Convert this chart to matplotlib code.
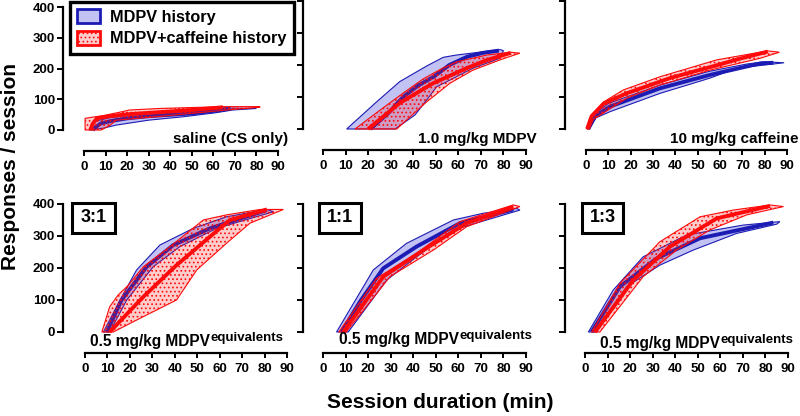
import numpy as np
import matplotlib
matplotlib.use('Agg')
import matplotlib.pyplot as plt
from matplotlib.patches import Patch, Rectangle

plt.rcParams['font.family'] = ['Liberation Sans', 'DejaVu Sans']
plt.rcParams['font.weight'] = 'bold'
plt.rcParams['hatch.linewidth'] = 0.7

# ---------------- data (time in min, cumulative responses) ----------------
# each group: mean curve, left/upper band edge (lo), right/lower band edge (hi)
SAL_BLUE = dict(mean_t=[4, 5.5, 8, 13, 20, 30, 50, 60, 68], mean_r=[0, 10, 22, 30, 38, 45, 54, 62, 70],
                lo_t=[2.5, 3, 4, 6, 12, 25, 42, 60], lo_r=[0, 10, 22, 30, 40, 52, 62, 72],
                hi_t=[3, 9, 15, 30, 46, 61, 69, 80], hi_r=[0, 6, 16, 32, 43, 56, 65, 70])
SAL_RED = dict(mean_t=[3, 4, 6, 12, 20, 35, 50, 64.5], mean_r=[0, 20, 38, 45, 51, 58, 65, 74],
               lo_t=[0.5, 0.5, 9, 18, 21, 35, 64.5, 81.6], lo_r=[0, 38, 47, 60, 65, 70, 76, 76],
               hi_t=[8, 12, 15, 35, 66, 81.6], hi_r=[0, 15, 32, 44, 65, 74])

MDPV_BLUE = dict(mean_t=[21, 29, 35.5, 42, 49, 56, 64, 71, 78], mean_r=[0, 50, 100, 135, 163, 200, 226, 238, 245],
                 lo_t=[10.5, 23, 34, 46, 53.3, 59, 78.5], lo_r=[0, 80, 148, 197, 224, 231, 248],
                 hi_t=[32, 40.8, 46, 50.4, 56.3, 66.5, 78.5, 80], hi_r=[0, 44, 91, 132, 153, 190, 221, 245])
MDPV_RED = dict(mean_t=[20, 34, 48.8, 63.7, 72.5, 83.2], mean_r=[0, 81, 143, 190, 215, 238],
                lo_t=[14.2, 25.3, 35.5, 44.3, 53, 59.3, 72.5, 83], lo_r=[0, 59, 112, 156, 190, 210, 231, 240],
                hi_t=[32.7, 38.6, 46, 56.3, 66.5, 78.5, 87.3], hi_r=[0, 38, 85, 143, 184, 216, 237])

CAF_BLUE = dict(mean_t=[1, 4, 10.7, 33, 55.5, 78, 83.9], mean_r=[0, 40, 70, 127, 169, 205, 207],
                lo_t=[0.5, 3.5, 10, 33, 55, 72, 80], lo_r=[0, 45, 80, 137, 180, 203, 210],
                hi_t=[1.5, 4.5, 10.7, 33, 55.5, 67.5, 88.7], hi_r=[0, 35, 54, 111, 159, 190, 207])
CAF_RED = dict(mean_t=[0.5, 2.5, 8, 18, 38, 48, 59, 69, 81.4], mean_r=[0, 40, 80, 111, 160, 179, 200, 220, 242],
               lo_t=[0.3, 2.5, 8, 16.7, 33, 58.5, 78, 81.4], lo_r=[0, 44, 85, 122, 163, 216, 240, 244],
               hi_t=[1.5, 3.3, 18.2, 33, 55.5, 78, 86.6], hi_r=[0, 30, 96, 137, 184, 221, 240])

R31_BLUE = dict(mean_t=[9.7, 16.3, 27.5, 39.4, 55.7, 81], mean_r=[0, 100, 204, 272, 324, 381],
                lo_t=[8.2, 15.6, 23, 33.4, 48.3, 63, 81], lo_r=[0, 100, 194, 272, 324, 360, 383],
                hi_t=[11, 18.6, 30.4, 42.3, 58.7, 84], hi_r=[0, 100, 204, 267, 324, 376])
R31_RED = dict(mean_t=[11, 26, 40.8, 55.7, 64.6, 81], mean_r=[0, 110, 209, 298, 350, 383],
               lo_t=[7.5, 11, 14.8, 19, 26, 37.9, 52.7, 63, 78], lo_r=[0, 79, 116, 144, 204, 267, 350, 366, 383],
               hi_t=[12.6, 26, 40.8, 49.8, 63, 73.5, 88.4], hi_r=[0, 48, 100, 194, 277, 340, 383])

R11_BLUE = dict(mean_t=[8.2, 16.4, 26.7, 41.5, 60.7, 84.4], mean_r=[0, 95, 199, 267, 340, 383],
                lo_t=[6, 22.3, 37, 57.8, 71, 86], lo_r=[0, 194, 277, 350, 371, 386],
                hi_t=[11.2, 28.2, 41.5, 57.8, 87.3], hi_r=[0, 162, 235, 319, 381])
R11_RED = dict(mean_t=[9, 26.7, 44.5, 63.7, 84.4], mean_r=[0, 173, 256, 340, 392],
               lo_t=[7, 23.8, 41.5, 60.7, 84.4], lo_r=[0, 168, 246, 345, 397],
               hi_t=[10.3, 29.7, 48.9, 63.7, 87.3], hi_r=[0, 173, 256, 329, 392])

R13_BLUE = dict(mean_t=[2.9, 15.5, 31.8, 51, 71.7, 83.5], mean_r=[0, 142, 230, 293, 324, 342],
                lo_t=[1.5, 12.5, 25.8, 45, 70, 86.4], lo_r=[0, 131, 235, 303, 334, 345],
                hi_t=[5.2, 18.5, 33.2, 48, 67.2, 85], hi_r=[0, 142, 209, 256, 308, 337])
R13_RED = dict(mean_t=[4.4, 21.4, 37.7, 58.4, 82], mean_r=[0, 162, 267, 355, 394],
               lo_t=[2.9, 15.5, 33.2, 51, 65.7, 82], lo_r=[0, 152, 282, 360, 381, 397],
               hi_t=[6.6, 25.8, 40.6, 55.4, 71.7, 88], hi_r=[0, 173, 256, 319, 366, 392])

PANEL_LABELS = ['saline (CS only)', '1.0 mg/kg MDPV', '10 mg/kg caffeine',
                '0.5 mg/kg MDPV', '0.5 mg/kg MDPV', '0.5 mg/kg MDPV']
RATIOS = [None, None, None, '3:1', '1:1', '1:3']
X_TICKS = [0, 10, 20, 30, 40, 50, 60, 70, 80, 90]
Y_TICKS = [0, 100, 200, 300, 400]
LEGEND_LABELS = ['MDPV history', 'MDPV+caffeine history']

GROUPS = [(SAL_BLUE, SAL_RED), (MDPV_BLUE, MDPV_RED), (CAF_BLUE, CAF_RED),
          (R31_BLUE, R31_RED), (R11_BLUE, R11_RED), (R13_BLUE, R13_RED)]

# ---------------- style / layout ----------------
BLUE = '#1c1cb4'
BLUE_FILL = (0.15, 0.15, 0.85, 0.28)
RED = '#ff0a0a'
RED_FILL = (1.0, 0.1, 0.1, 0.22)

W, H = 800, 416
fig = plt.figure(figsize=(W / 100, H / 100), dpi=100)

# (spine_px, x0_px, x90_px, y400_px, y0_px, label_anchor_px, label_baseline_px)
LAYOUT = [(63, 84, 278, 7, 130, 288, 143),
          (303, 323, 526, 1, 129, 537, 143),
          (565, 586, 787, 1, 129, 798, 143),
          (63, 85, 287, 204, 332, 90, 346),
          (303, 323, 526, 204, 332, 339, 344),
          (565, 585, 788, 204, 332, 600, 348)]
RATIO_BOX = [None, None, None, (72, 203, 115, 233), (319, 203, 361, 233), (582, 203, 623, 233)]


def fx(px):
    return px / W


def fy(py):
    return 1 - py / H


def draw_group(ax, g, lc, fc, hatch, z):
    pt = list(g['lo_t']) + list(g['hi_t'])[::-1]
    pr = list(g['lo_r']) + list(g['hi_r'])[::-1]
    ax.fill(pt, pr, facecolor=fc, edgecolor=lc, lw=0.8, hatch=hatch, clip_on=False, zorder=z)
    ax.plot(g['mean_t'], g['mean_r'], color=lc, lw=2.8, solid_capstyle='butt',
            solid_joinstyle='round', clip_on=False, zorder=z + 1)


axes = []
for i, (sp, x0, x90, ytop, ybot, lx, ly) in enumerate(LAYOUT):
    scale = (x90 - x0) / 90.0
    xmin = -(x0 - sp) / scale
    ax = fig.add_axes([fx(sp), fy(ybot), (x90 - sp) / W, (ybot - ytop) / H])
    ax.set_xlim(xmin, 90)
    ax.set_ylim(0, 400)
    ax.patch.set_visible(False)
    for s in ['top', 'right']:
        ax.spines[s].set_visible(False)
    ax.spines['left'].set_bounds(0, 400)
    ax.spines['bottom'].set_bounds(0, 90)
    ax.spines['bottom'].set_position(('outward', 21 * 0.72))
    for s in ['left', 'bottom']:
        ax.spines[s].set_linewidth(1.6)
    ax.set_xticks(X_TICKS)
    ax.set_yticks(Y_TICKS)
    ax.tick_params(axis='x', length=3.8, width=1.4, pad=3.2, labelsize=9.5)
    ax.tick_params(axis='y', length=4.3, width=1.4, pad=1.5, labelsize=9.5)
    if i not in (0, 3):
        ax.set_yticklabels([])
    for lab in ax.get_xticklabels() + ax.get_yticklabels():
        lab.set_fontweight('bold')

    blue, red = GROUPS[i]
    draw_group(ax, blue, BLUE, BLUE_FILL, None, 2)
    draw_group(ax, red, RED, RED_FILL, '....', 4)
    axes.append(ax)

    if i < 3:
        fig.text(fx(lx), fy(ly), PANEL_LABELS[i], ha='right', va='baseline',
                 fontsize=11, fontweight='bold')
    else:
        t = fig.text(fx(lx), fy(ly), PANEL_LABELS[i], ha='left', va='baseline',
                     fontsize=11.2, fontweight='bold')
        ax.annotate('equivalents', xy=(1.0, 0.0), xycoords=t, xytext=(0.5, 8.5),
                    textcoords='offset pixels', ha='left', va='baseline',
                    fontsize=9.5, fontweight='bold', annotation_clip=False)
        x1, y1, x2, y2 = RATIO_BOX[i]
        fig.add_artist(Rectangle((fx(x1), fy(y2)), (x2 - x1) / W, (y2 - y1) / H,
                                 transform=fig.transFigure, fill=False, lw=2.2,
                                 edgecolor='black'))
        fig.text(fx((x1 + x2) / 2), fy((y1 + y2) / 2), RATIOS[i], ha='center', va='center',
                 fontsize=13, fontweight='bold')

# legend
handles = [Patch(facecolor=BLUE_FILL, edgecolor=BLUE, lw=2, label=LEGEND_LABELS[0]),
           Patch(facecolor=RED_FILL, edgecolor=RED, lw=2, hatch='....', label=LEGEND_LABELS[1])]
leg = axes[0].legend(handles=handles, loc='upper left', bbox_to_anchor=(fx(70), fy(2)),
                     bbox_transform=fig.transFigure, frameon=True, fancybox=False,
                     edgecolor='black', framealpha=1, borderpad=0.45, borderaxespad=0,
                     handlelength=1.4, handleheight=0.95, handletextpad=0.6,
                     labelspacing=0.35, prop={'size': 11.7, 'weight': 'bold'})
leg.get_frame().set_linewidth(2.4)
leg.set_zorder(10)

fig.text(fx(11), fy(166), 'Responses / session', rotation=90, ha='center', va='center',
         fontsize=15, fontweight='bold')
fig.text(fx(440), fy(408), 'Session duration (min)', ha='center', va='baseline',
         fontsize=15, fontweight='bold')

fig.savefig('out.png', dpi=100)
